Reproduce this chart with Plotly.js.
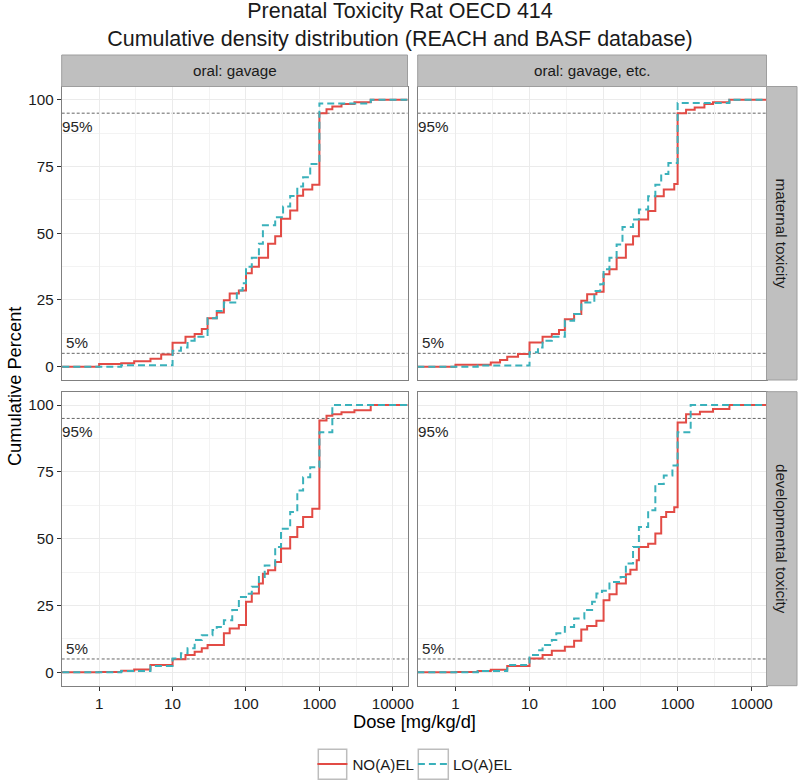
<!DOCTYPE html>
<html>
<head>
<meta charset="utf-8">
<script src="https://cdn.plot.ly/plotly-3.0.1.min.js"></script>
<style>html,body{margin:0;padding:0;background:#fff;}</style>
</head>
<body>
<div id="chart" style="width:800px;height:784px;"></div>
<script>
// ---------------- DATA ----------------
const chartTitle = 'Prenatal Toxicity Rat OECD 414<br>Cumulative density distribution (REACH and BASF database)';
const xTitle = 'Dose [mg/kg/d]';
const yTitle = 'Cumulative Percent';
const colLabels = ['oral: gavage', 'oral: gavage, etc.'];
const rowLabels = ['maternal toxicity', 'developmental toxicity'];
const seriesNames = ['NO(A)EL', 'LO(A)EL'];
const xTickVals = [1, 10, 100, 1000, 10000];
const xTickText = ['1', '10', '100', '1000', '10000'];
const yTickVals = [0, 25, 50, 75, 100];
const yTickText = ['0', '25', '50', '75', '100'];
const refLevels = [5, 95];
const refLabels = ['5%', '95%'];
const refLabelY = [9, 90];
const refLabelDose = 0.5;
// stat_ecdf pads each curve with -Inf (0 %) and +Inf (100 %)
const ecdfLowDose = 0.01, ecdfHighDose = 1e6;

// maternal toxicity, oral: gavage
const noMatGavDose = [1, 2, 3, 5, 7, 10, 15, 20, 25, 30, 40, 50, 60, 80, 100, 120, 150, 200, 250, 300, 400, 500, 600, 800, 1000, 1250, 1500, 2000, 3000, 5000];
const noMatGavPct  = [1.0, 1.3, 2.0, 3.0, 4.6, 9.0, 11.2, 12.2, 14.1, 18.1, 20.3, 24.9, 27.4, 28.5, 35.0, 37.4, 40.8, 46.1, 48.9, 55.4, 58.5, 64.1, 66.4, 68.2, 95.0, 96.5, 97.5, 98.4, 99.1, 100];
const loMatGavDose = [2, 10, 13, 16, 20, 30, 40, 50, 75, 90, 100, 120, 150, 170, 250, 320, 400, 500, 600, 750, 1000, 5000];
const loMatGavPct  = [0.5, 6.0, 7.2, 9.7, 11.2, 18.1, 20.9, 24.0, 28.5, 31.3, 37.4, 40.8, 46.1, 53.0, 56.0, 60.0, 64.0, 67.5, 71.0, 76.0, 98.6, 100];

// maternal toxicity, oral: gavage, etc.
const noMatEtcDose = [1, 3, 4, 5, 7, 10, 15, 20, 25, 30, 40, 50, 60, 80, 100, 120, 150, 200, 250, 300, 400, 500, 650, 900, 1000, 1300, 1700, 2300, 3000, 5000];
const noMatEtcPct  = [0.7, 1.6, 2.5, 3.7, 4.7, 9.1, 11.2, 12.2, 13.7, 17.8, 19.7, 24.7, 27.1, 28.1, 34.6, 36.5, 40.8, 45.8, 48.9, 55.2, 58.3, 63.9, 66.4, 68.5, 95.0, 96.3, 97.1, 98.4, 99.1, 100];
const loMatEtcDose = [2, 10, 13, 15, 20, 30, 40, 50, 75, 90, 100, 120, 150, 180, 250, 300, 400, 500, 600, 750, 1000, 5000];
const loMatEtcPct  = [0.4, 5.4, 7.2, 9.7, 11.2, 17.2, 19.7, 24.0, 28.4, 30.9, 36.5, 40.8, 45.8, 52.3, 55.2, 58.9, 63.9, 68.2, 72.2, 76.3, 98.8, 100];

// developmental toxicity, oral: gavage
const noDevGavDose = [1, 2, 3, 5, 10, 15, 20, 25, 30, 50, 60, 80, 100, 120, 150, 170, 200, 250, 300, 400, 500, 600, 800, 1000, 1250, 1500, 2000, 3000, 5000];
const noDevGavPct  = [0.1, 0.6, 1.1, 2.7, 4.9, 6.5, 7.7, 9.0, 10.2, 14.6, 16.4, 17.7, 26.4, 29.5, 33.2, 36.9, 38.2, 41.3, 46.3, 50.6, 54.4, 58.1, 61.2, 94.2, 96.0, 96.6, 97.3, 98.1, 100];
const loDevGavDose = [2, 5, 10, 13, 16, 20, 25, 35, 40, 50, 65, 80, 100, 120, 150, 180, 250, 300, 400, 500, 600, 750, 1000, 1500];
const loDevGavPct  = [0.5, 2.4, 5.2, 7.1, 9.0, 12.1, 13.9, 15.8, 17.0, 19.5, 23.3, 28.2, 29.4, 32.0, 35.7, 40.0, 46.9, 53.7, 60.0, 68.0, 73.0, 76.7, 89.8, 100];

// developmental toxicity, oral: gavage, etc.
const noDevEtcDose = [1, 2, 3, 5, 10, 15, 20, 30, 40, 50, 60, 80, 100, 120, 150, 200, 230, 280, 300, 400, 500, 600, 700, 900, 1000, 1300, 2000, 3000, 5000];
const noDevEtcPct  = [0.1, 0.5, 1.0, 2.4, 5.2, 6.5, 8.1, 9.6, 11.8, 16.0, 17.3, 19.3, 27.0, 29.2, 33.2, 36.7, 38.4, 41.9, 46.9, 48.1, 51.9, 58.1, 60.0, 61.8, 93.5, 96.6, 97.5, 98.5, 100];
const loDevEtcDose = [2, 5, 10, 13, 15, 20, 23, 30, 40, 55, 70, 80, 95, 120, 170, 200, 250, 300, 400, 500, 650, 850, 1000, 1500];
const loDevEtcPct  = [0.5, 2.7, 6.5, 8.3, 10.2, 12.1, 14.6, 17.0, 20.1, 23.3, 26.4, 29.5, 30.5, 33.8, 35.7, 40.7, 46.9, 54.4, 60.6, 70.5, 73.6, 77.4, 89.8, 100];

// ---------------- BUILD ----------------
const W = 800, H = 784;
const FONT = 'Liberation Sans, Arial, Helvetica, sans-serif';
const RED = '#E24B45', BLUE = '#3AB1BB';
const px = v => v / W;
const py = v => 1 - v / H;

const colPix = [[61.7, 407.5], [417.7, 766.5]];
const rowPix = [[86.5, 380], [391.7, 685.7]];
const stripTop = 55;
const rowStripRight = 797;

const panels = [
  {r: 0, c: 0, no: [noMatGavDose, noMatGavPct], lo: [loMatGavDose, loMatGavPct]},
  {r: 0, c: 1, no: [noMatEtcDose, noMatEtcPct], lo: [loMatEtcDose, loMatEtcPct]},
  {r: 1, c: 0, no: [noDevGavDose, noDevGavPct], lo: [loDevGavDose, loDevGavPct]},
  {r: 1, c: 1, no: [noDevEtcDose, noDevEtcPct], lo: [loDevEtcDose, loDevEtcPct]}
];

const xMinor = [Math.sqrt(0.1)].concat(xTickVals.map(v => v * Math.sqrt(10)));

const traces = [];
const layout = {
  width: W, height: H,
  margin: {l: 0, r: 0, t: 0, b: 0},
  paper_bgcolor: '#fff', plot_bgcolor: '#fff',
  font: {family: FONT, color: '#1a1a1a'},
  showlegend: true,
  title: {
    text: chartTitle, x: 0.5, xanchor: 'center', xref: 'container',
    y: py(18), yanchor: 'middle', yref: 'container',
    font: {family: FONT, size: 21.5, color: '#1a1a1a'}
  },
  legend: {
    orientation: 'h', x: px(312.4), xanchor: 'left', y: py(764), yanchor: 'middle',
    font: {family: FONT, size: 15.2, color: '#1a1a1a'},
    bgcolor: 'rgba(0,0,0,0)', itemwidth: 30, entrywidth: 55.5, entrywidthmode: 'pixels'
  },
  shapes: [], annotations: []
};

panels.forEach((p, i) => {
  const k = i === 0 ? '' : String(i + 1);
  const showX = p.r === 1, showY = p.c === 0;
  layout['xaxis' + k] = {
    type: 'log', range: [-0.51, 4.2], domain: [px(colPix[p.c][0]), px(colPix[p.c][1])],
    anchor: 'y' + k, tickmode: 'array', tickvals: xTickVals, ticktext: xTickText,
    showticklabels: showX, ticks: showX ? 'outside' : '', ticklen: 4, tickwidth: 1, tickcolor: '#333',
    tickfont: {family: FONT, size: 15.2, color: '#1a1a1a'},
    showgrid: true, gridcolor: '#ebebeb', gridwidth: 1,
    minor: {tickmode: 'array', tickvals: xMinor, showgrid: true, gridcolor: '#f3f3f3', gridwidth: 1, ticks: ''},
    showline: true, linecolor: '#808080', linewidth: 1, mirror: true, zeroline: false, fixedrange: true
  };
  layout['yaxis' + k] = {
    range: [-5, 105], domain: [py(rowPix[p.r][1]), py(rowPix[p.r][0])],
    anchor: 'x' + k, tickmode: 'array', tickvals: yTickVals, ticktext: yTickText,
    showticklabels: showY, ticks: showY ? 'outside' : '', ticklen: 4, tickwidth: 1, tickcolor: '#333',
    tickfont: {family: FONT, size: 15.2, color: '#1a1a1a'},
    showgrid: true, gridcolor: '#ebebeb', gridwidth: 1,
    minor: {dtick: 12.5, tick0: 0, showgrid: true, gridcolor: '#f3f3f3', gridwidth: 1, ticks: ''},
    showline: true, linecolor: '#808080', linewidth: 1, mirror: true, zeroline: false, fixedrange: true
  };
  traces.push({
    type: 'scatter', mode: 'lines', name: seriesNames[0], legendgroup: 'no', showlegend: i === 0,
    x: [ecdfLowDose].concat(p.no[0], [ecdfHighDose]), y: [0].concat(p.no[1], [100]),
    xaxis: 'x' + k, yaxis: 'y' + k, hoverinfo: 'skip',
    line: {shape: 'hv', color: RED, width: 2}
  });
  traces.push({
    type: 'scatter', mode: 'lines', name: seriesNames[1], legendgroup: 'lo', showlegend: i === 0,
    x: [ecdfLowDose].concat(p.lo[0], [ecdfHighDose]), y: [0].concat(p.lo[1], [100]),
    xaxis: 'x' + k, yaxis: 'y' + k, hoverinfo: 'skip',
    line: {shape: 'hv', color: BLUE, width: 2, dash: '7px,4px'}
  });
  refLevels.forEach((lv, j) => {
    layout.shapes.push({
      type: 'line', xref: 'x' + k + ' domain', yref: 'y' + k, x0: 0, x1: 1, y0: lv, y1: lv,
      line: {color: '#666', width: 1, dash: '3px,2px'}, layer: 'below'
    });
    layout.annotations.push({
      xref: 'x' + k, yref: 'y' + k, x: Math.log10(refLabelDose), y: refLabelY[j],
      text: refLabels[j], showarrow: false, xanchor: 'center', yanchor: 'middle',
      font: {family: FONT, size: 15.2, color: '#262626'}
    });
  });
});

// column strips
colLabels.forEach((lab, c) => {
  layout.shapes.push({type: 'rect', xref: 'paper', yref: 'paper',
    x0: px(colPix[c][0]), x1: px(colPix[c][1]), y0: py(rowPix[0][0]), y1: py(stripTop),
    fillcolor: '#bfbfbf', line: {color: '#9e9e9e', width: 1}, layer: 'above'});
  layout.annotations.push({xref: 'paper', yref: 'paper',
    x: px((colPix[c][0] + colPix[c][1]) / 2), y: py((stripTop + rowPix[0][0]) / 2),
    text: lab, showarrow: false, xanchor: 'center', yanchor: 'middle',
    font: {family: FONT, size: 15.2, color: '#1a1a1a'}});
});
// row strips
rowLabels.forEach((lab, r) => {
  layout.shapes.push({type: 'rect', xref: 'paper', yref: 'paper',
    x0: px(colPix[1][1]), x1: px(rowStripRight), y0: py(rowPix[r][1]), y1: py(rowPix[r][0]),
    fillcolor: '#bfbfbf', line: {color: '#9e9e9e', width: 1}, layer: 'above'});
  layout.annotations.push({xref: 'paper', yref: 'paper',
    x: px((colPix[1][1] + rowStripRight) / 2), y: py((rowPix[r][0] + rowPix[r][1]) / 2),
    text: lab, showarrow: false, textangle: 90, xanchor: 'center', yanchor: 'middle',
    font: {family: FONT, size: 15.2, color: '#1a1a1a'}});
});
// axis titles
layout.annotations.push({xref: 'paper', yref: 'paper', x: px((colPix[0][0] + colPix[1][1]) / 2), y: py(721),
  text: xTitle, showarrow: false, xanchor: 'center', yanchor: 'middle',
  font: {family: FONT, size: 18.3, color: '#000'}});
layout.annotations.push({xref: 'paper', yref: 'paper', x: px(14), y: py((rowPix[0][0] + rowPix[1][1]) / 2),
  text: yTitle, showarrow: false, textangle: -90, xanchor: 'center', yanchor: 'middle',
  font: {family: FONT, size: 18.3, color: '#000'}});
// legend key boxes
[[318.3, 346.7], [418.3, 448.3]].forEach(b => {
  layout.shapes.push({type: 'rect', xref: 'paper', yref: 'paper',
    x0: px(b[0]), x1: px(b[1]), y0: py(779.3), y1: py(749.3),
    line: {color: '#bdbdbd', width: 1.5}, fillcolor: 'rgba(0,0,0,0)', layer: 'above'});
});

Plotly.newPlot('chart', traces, layout, {displayModeBar: false, staticPlot: true});
</script>
</body>
</html>
